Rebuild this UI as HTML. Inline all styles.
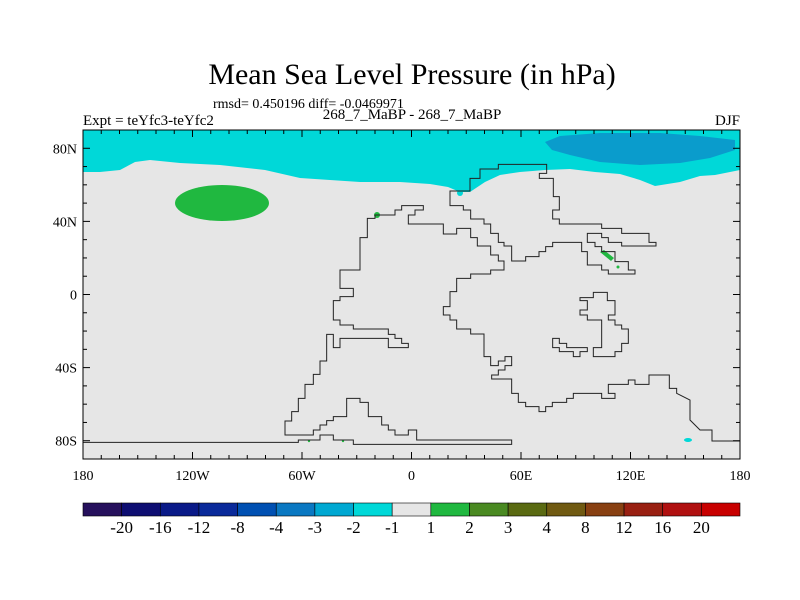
<!DOCTYPE html>
<html><head><meta charset="utf-8"><style>
html,body{margin:0;padding:0;background:#fff}
svg{display:block;font-family:"Liberation Serif",serif}
</style></head><body>
<svg id="chart" width="800" height="600" viewBox="0 0 800 600">
<text x="412" y="84" text-anchor="middle" font-size="30">Mean Sea Level Pressure (in hPa)</text>
<text x="213" y="108" font-size="14">rmsd= 0.450196 diff= -0.0469971</text>
<text x="83" y="125" font-size="15">Expt = teYfc3-teYfc2</text>
<text x="412" y="119" text-anchor="middle" font-size="15">268_7_MaBP - 268_7_MaBP</text>
<text x="740" y="125" text-anchor="end" font-size="15">DJF</text>
<defs><clipPath id="mapclip"><rect x="83" y="130" width="657" height="329"/></clipPath></defs>
<g clip-path="url(#mapclip)">
<rect x="83" y="130" width="657" height="329" fill="#e6e6e6"/>
<path fill="#00d8d8" d="M83,130 L740,130 L740,170 L715,175 L700,176 L680,182 L655,186 L640,180 L620,174 L595,172 L570,169 L545,170 L520,172 L500,175 L485,182 L470,192 L460,192 L448,187 L430,184 L400,182 L360,182 L330,180 L300,178 L265,170 L220,165 L180,163 L150,160 L135,162 L120,170 L100,172 L83,172 Z"/>
<path fill="#0a9ccc" d="M545,142 L560,136 L600,133 L660,133 L700,136 L735,140 L735,150 L710,158 L680,163 L640,165 L600,162 L570,155 L552,150 Z"/>
<ellipse cx="222" cy="203" rx="47" ry="18" fill="#20b840"/>
<g fill="#20b840">
<circle cx="377" cy="215" r="3"/><path d="M600,252 L604,250 L614,258 L611,261 Z"/><circle cx="618" cy="267" r="1.5"/><circle cx="309" cy="441" r="1.2"/><circle cx="343" cy="441" r="1.2"/>
</g>
<g fill="#00d8d8"><circle cx="460" cy="193" r="3"/><ellipse cx="688" cy="440" rx="4" ry="2"/></g>
<g transform="translate(280,155) scale(0.33333)" fill="none" stroke="#222" stroke-width="3">
<path d="M-591,862 L55,862 L55,855 L120,855 L120,840 L160,840 L160,855 L220,855 L220,868 L695,868 L695,855 L410,855 L410,825 L385,825 L385,840 L345,840 L345,825 L325,825 L325,810 L305,810 L305,785 L265,785 L265,742 L240,742 L240,730 L200,730 L200,785 L160,785 L160,797 L140,797 L140,810 L120,810 L120,825 L100,825 L100,840 L15,840 L15,798 L35,798 L35,770 L55,770 L55,730 L75,730 L75,688 L100,688 L100,658 L120,658 L120,618 L140,618 L140,538 L160,538 L160,578 L180,578 L180,550 L325,550 L325,578 L385,578 L385,565 L365,565 L365,550 L345,550 L345,538 L325,538 L325,522 L220,522 L220,510 L180,510 L180,495 L160,495 L160,437 L180,437 L180,425 L220,425 L220,400 L180,400 L180,345 L240,345 L240,248 L262,248 L262,190 L285,190 L285,180 L345,180 L345,165 L365,165 L365,152 L430,152 L430,165 L405,165 L405,180 L385,180 L385,207 L490,207 L490,237 L530,237 L530,220 L572,220 L572,248 L592,248 L592,273 L632,273 L632,300 L655,300 L655,318 L672,318 L672,345 L632,345 L632,357 L572,357 L572,370 L530,370 L530,410 L510,410 L510,455 L490,455 L490,480 L510,480 L510,495 L530,495 L530,522 L572,522 L572,537 L612,537 L612,605 L632,605 L632,632 L655,632 L655,618 L675,618 L675,605 L695,605 L695,632 L675,632 L675,645 L655,645 L655,660 L635,660 L635,672 L695,672 L695,715 L715,715 L715,742 L737,742 L737,755 L777,755 L777,770 L797,770 L797,755 L817,755 L817,742 L860,742 L860,730 L880,730 L880,715 L965,715 L965,730 L1005,730 L1005,715 L985,715 L985,688 L1045,688 L1045,675 L1065,675 L1065,688 L1107,688 L1107,660 L1168,660 L1168,700 L1190,700 L1190,715 L1230,735 L1230,795 L1260,825 L1296,825 L1296,858 L1400,858"/>
<path d="M510,108 L570,108 L570,70 L600,70 L600,42 L655,42 L655,28 L800,28 L800,55 L778,55 L778,70 L820,70 L820,125 L838,125 L838,165 L818,165 L818,192 L838,192 L838,207 L965,207 L965,220 L1025,220 L1025,235 L1107,235 L1107,262 L1128,262 L1128,273 L1025,273 L1025,262 L985,262 L985,248 L965,248 L965,235 L922,235 L922,262 L945,262 L945,275 L965,275 L965,290 L1005,290 L1005,320 L1045,320 L1045,345 L1065,345 L1065,357 L985,357 L985,345 L965,345 L965,330 L922,330 L922,290 L905,290 L905,262 L818,262 L818,275 L797,275 L797,290 L777,290 L777,305 L737,305 L737,318 L695,318 L695,273 L672,273 L672,262 L655,262 L655,235 L632,235 L632,207 L612,207 L612,192 L572,192 L572,165 L550,165 L550,152 L510,152 Z"/>
<path d="M900,428 L940,428 L940,412 L982,412 L982,437 L1005,437 L1005,480 L985,480 L985,495 L1005,495 L1005,510 L1025,510 L1025,522 L1045,522 L1045,565 L1025,565 L1025,590 L1005,590 L1005,605 L940,605 L940,578 L965,578 L965,495 L922,495 L922,480 L900,480 L900,465 L922,465 L922,437 L900,437 Z"/>
<path d="M818,550 L838,550 L838,565 L860,565 L860,578 L922,578 L922,590 L900,590 L900,605 L880,605 L880,590 L838,590 L838,578 L818,578 Z"/>
</g>
</g>
<rect x="83" y="130" width="657" height="329" fill="none" stroke="#000" stroke-width="1"/>
<g id="ticks" stroke="#000" stroke-width="1"></g>
<g id="labels" font-size="14"></g>
<g id="colorbar"></g>
</svg>
<script>
const lonTickLabels=["180","120W","60W","0","60E","120E","180"];
const lonTickValues=[-180,-120,-60,0,60,120,180];
const latTickLabels=["80N","40N","0","40S","80S"];
const latTickValues=[80,40,0,-40,-80];
const cbLevels=["-20","-16","-12","-8","-4","-3","-2","-1","1","2","3","4","8","12","16","20"];
const cbColors=["#26105c","#0e0e72","#0a1a88","#0a2a9a","#0050b2","#0a78c2","#00a8d2","#00d8d8","#e6e6e6","#20b840","#4a8a22","#5a6a12","#705a12","#884012","#992012","#b01010","#c80000"];
const NS="http://www.w3.org/2000/svg";
const X0=83,X1=740,Y0=130,Y1=459;
const xOf=lon=>X0+(lon+180)/360*(X1-X0);
const yOf=lat=>Y0+(90-lat)/180*(Y1-Y0);
function mk(t,a){const e=document.createElementNS(NS,t);for(const k in a)e.setAttribute(k,a[k]);return e;}
const tk=document.getElementById('ticks'),lb=document.getElementById('labels'),cb=document.getElementById('colorbar');
for(let lon=-180;lon<=180;lon+=10){
  const x=xOf(lon),len=(lon%60===0)?7:4;
  const a=mk('line',{x1:x,y1:Y0,x2:x,y2:Y0+len});
  
  
  tk.appendChild(a);
  const b=mk('line',{x1:x,y1:Y1,x2:x,y2:Y1-len});
  
  
  tk.appendChild(b);
}
for(let lat=-90;lat<=90;lat+=10){
  const y=yOf(lat),len=(lat%40===0)?7:4;
  const a=mk('line',{x1:X0,y1:y,x2:X0+len,y2:y});
  
  
  tk.appendChild(a);
  const b=mk('line',{x1:X1,y1:y,x2:X1-len,y2:y});
  
  
  tk.appendChild(b);
}
lonTickValues.forEach((v,i)=>{
  const t=mk('text',{x:xOf(v),y:480,'text-anchor':'middle'});
  
  
  t.textContent=lonTickLabels[i];lb.appendChild(t);
});
latTickValues.forEach((v,i)=>{
  const t=mk('text',{x:77,y:yOf(v)+5,'text-anchor':'end'});
  
  
  t.textContent=latTickLabels[i];lb.appendChild(t);
});
const n=cbColors.length,w=(X1-X0)/n,cy=503,ch=13;
cbColors.forEach((c,i)=>{
  const r=mk('rect',{x:X0+i*w,y:cy,width:w,height:ch,fill:c,stroke:'#000','stroke-width':0.6});
  
  
  cb.appendChild(r);
});
cbLevels.forEach((l,i)=>{
  const t=mk('text',{x:X0+(i+1)*w,y:533,'text-anchor':'middle','font-size':17});
  
  
  t.textContent=l;cb.appendChild(t);
});
</script>
</body></html>
